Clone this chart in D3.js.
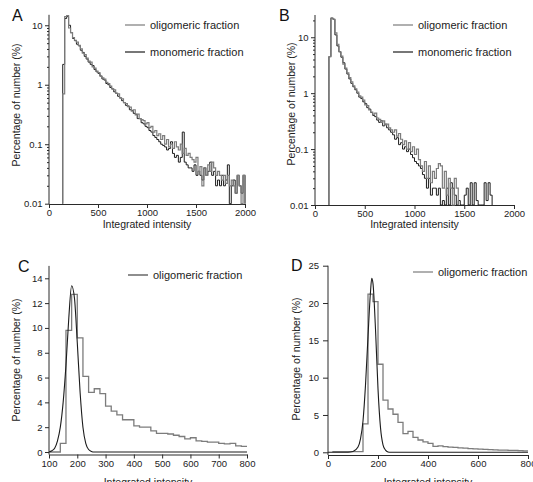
<!DOCTYPE html>
<html>
<head>
<meta charset="utf-8">
<script src="https://cdn.jsdelivr.net/npm/d3@7"></script>
<style>
  body { margin: 0; background: #fff; }
  text { font-family: "Liberation Sans", Arial, Helvetica, sans-serif; }
</style>
</head>
<body>
<div id="chart"></div>
<script>
// histogram bins are 20 intensity units wide
var binWidth = 20;

// panel A (log scale), bins start at 140
var startA = 140;
var oligoA = [0.7, 14, 14.5, 9, 7.5, 6.2, 5.6, 5.2, 4.6, 4.0,
  3.4, 3.2, 2.8, 2.5, 2.4, 2.0, 1.9, 1.7, 1.6, 1.4,
  1.3, 1.25, 1.1, 1.05, 0.95, 0.85, 0.82, 0.72, 0.7, 0.6,
  0.58, 0.5, 0.48, 0.43, 0.42, 0.36, 0.38, 0.31, 0.32, 0.27,
  0.26, 0.25, 0.22, 0.23, 0.19, 0.2, 0.16, 0.17, 0.14, 0.15,
  0.12, 0.14, 0.1, 0.12, 0.09, 0.1, 0.085, 0.11, 0.09, 0.08,
  0.1, 0.07, 0.085, 0.065, 0.07, 0.06, 0.055, 0.05, 0.06, 0.035,
  0.042, 0.02, 0.04, 0.03, 0.045, 0.035, 0.05, 0.04, 0.03, 0.035,
  0.03, 0.025, 0.03, 0.022, 0.03, 0.02, 0.025, 0.02, 0.015, 0.03,
  0.02, 0, 0.03];
var monoA = [2.2, 13, 14, 10, 7.5, 6.0, 5.5, 4.8, 4.5, 3.8,
  3.5, 3.0, 2.7, 2.4, 2.2, 2.1, 1.8, 1.65, 1.55, 1.4,
  1.25, 1.2, 1.05, 1.0, 0.9, 0.85, 0.76, 0.72, 0.64, 0.6,
  0.54, 0.5, 0.45, 0.44, 0.38, 0.37, 0.33, 0.32, 0.27, 0.27,
  0.23, 0.22, 0.2, 0.19, 0.17, 0.16, 0.14, 0.13, 0.12, 0.11,
  0.1, 0.095, 0.09, 0.08, 0.085, 0.11, 0.07, 0.06, 0.065, 0.05,
  0.06, 0.16, 0.05, 0.045, 0.04, 0.04, 0.035, 0.045, 0.03, 0.035,
  0.03, 0.025, 0.04, 0.03, 0.035, 0.05, 0.03, 0.035, 0.02, 0.025,
  0.02, 0.03, 0.02, 0.025, 0.045, 0, 0.02, 0.025, 0.015, 0.03,
  0.02, 0.015, 0.03];

// panel B (log scale), bins start at 140
var startB = 140;
var oligoB = [4.5, 22, 21, 12, 7.5, 5.5, 4.6, 3.3, 2.8, 2.3,
  1.9, 1.6, 1.35, 1.2, 1.05, 0.9, 0.85, 0.75, 0.62, 0.6,
  0.5, 0.46, 0.42, 0.44, 0.36, 0.34, 0.3, 0.32, 0.27, 0.28,
  0.24, 0.22, 0.2, 0.22, 0.17, 0.19, 0.15, 0.12, 0.14, 0.1,
  0.13, 0.09, 0.11, 0.08, 0.1, 0.065, 0.05, 0.04, 0.06, 0.03,
  0.05, 0.025, 0.04, 0.03, 0.045, 0.055, 0.05, 0.02, 0.04, 0.015,
  0.03, 0.02, 0.01, 0.03, 0.02];
var monoB = [4.5, 22, 21, 11, 7, 5.5, 4.4, 3.5, 2.7, 2.2,
  1.8, 1.5, 1.3, 1.15, 1.0, 0.85, 0.8, 0.7, 0.65, 0.55,
  0.52, 0.45, 0.4, 0.38, 0.33, 0.3, 0.32, 0.26, 0.28, 0.24,
  0.22, 0.2, 0.18, 0.15, 0.16, 0.12, 0.13, 0.1, 0.11, 0.09,
  0.1, 0.08, 0.07, 0.06, 0.055, 0.05, 0.045, 0.035, 0.03, 0.02,
  0.03, 0.015, 0.02, 0.02, 0.015, 0.02, 0.01, 0.012, 0, 0.02,
  0.01, 0.025, 0.02, 0.015, 0.01, 0.012, 0, 0, 0.015, 0.02,
  0, 0.025, 0, 0.025, 0.012, 0, 0, 0.01, 0.025, 0.012,
  0.025, 0.015];

// panel C (linear), bins start at 100
var startC = 100;
var histC = [0, 0, 0.7, 9.8, 12.7, 9.2, 6.1, 4.8, 5.1, 4.7,
  3.7, 3.3, 3.0, 2.6, 2.6, 2.1, 2.0, 2.0, 1.7, 1.5,
  1.5, 1.45, 1.35, 1.25, 1.05, 1.15, 0.9, 0.85, 0.8, 0.8,
  0.7, 0.65, 0.7, 0.5, 0.45];
var fitCx = [100, 110, 120, 130, 140, 150, 160, 170, 180, 190, 200, 210, 220, 230, 240, 250, 260, 800];
var fitCy = [0, 0.1, 0.3, 0.9, 2.0, 4.0, 7.0, 10.8, 13.4, 12.4, 8.8, 4.8, 2.0, 0.7, 0.2, 0.05, 0, 0];

// panel D (linear), bins start at 20
var startD = 20;
var histD = [0.1, 0.1, 0.1, 0.1, 0.1, 0.1, 3.8, 21.2, 20.2, 11.8,
  7.0, 5.8, 5.1, 4.0, 2.5, 2.8, 2.0, 1.65, 1.4, 1.2,
  0.8, 0.85, 0.75, 0.7, 0.65, 0.6, 0.55, 0.5, 0.45, 0.42,
  0.38, 0.35, 0.32, 0.3, 0.28, 0.26, 0.25, 0.22, 0.2];
var fitDx = [0, 80, 100, 120, 130, 140, 150, 160, 170, 175, 180, 190, 200, 210, 220, 230, 240, 250, 800];
var fitDy = [0, 0, 0.1, 0.7, 1.8, 4.2, 9, 15.5, 21.5, 23.3, 22.6, 16.5, 8.5, 3.3, 1.0, 0.3, 0.05, 0, 0];

// ticks and labels
var xTicksAB = [0, 500, 1000, 1500, 2000];
var yTicksLog = [0.01, 0.1, 1, 10];
var xTicksC = [100, 200, 300, 400, 500, 600, 700, 800];
var yTicksC = [0, 2, 4, 6, 8, 10, 12, 14];
var xTicksD = [0, 200, 400, 600, 800];
var yTicksD = [0, 5, 10, 15, 20, 25];
var legendAB = ["oligomeric fraction", "monomeric fraction"];
var legendCD = ["oligomeric fraction"];
var xTitle = "Integrated intensity";
var yTitle = "Percentage of number (%)";

var grey = "#7c7c7c", dark = "#1c1c1c", axisCol = "#2a2a2a";

var svg = d3.select("#chart").append("svg")
  .attr("width", 533).attr("height", 482);

// one panel: axes, labels, letter
function panel(p) {
  var g = svg.append("g");
  var x = d3.scaleLinear().domain(p.xDomain).range(p.xRange);
  var y = (p.log ? d3.scaleLog() : d3.scaleLinear()).domain(p.yDomain).range(p.yRange);

  // x axis
  var gx = g.append("g")
    .attr("transform", "translate(0," + p.axisY + ")")
    .attr("color", axisCol)
    .call(d3.axisBottom(x).tickValues(p.xTicks).tickSize(4).tickSizeOuter(0)
      .tickPadding(1.5).tickFormat(d3.format("d")));
  gx.selectAll("text").style("font-size", "9.5px").attr("fill", "#222");

  // y axis
  var gy = g.append("g")
    .attr("transform", "translate(" + p.xRange[0] + ",0)")
    .attr("color", axisCol)
    .call(d3.axisLeft(y).tickValues(p.yTicks).tickSize(p.tickY || 4).tickSizeOuter(0)
      .tickPadding(p.padY || 2.5).tickFormat(function(d) { return String(d); }));
  gy.select(".domain").remove();
  gy.selectAll("text").style("font-size", "9.5px").attr("fill", "#222");
  g.append("line")
    .attr("x1", p.xRange[0]).attr("x2", p.xRange[0])
    .attr("y1", p.yRange[1]).attr("y2", p.axisY)
    .attr("stroke", axisCol);

  if (p.log) {
    var minor = [];
    yTicksLog.forEach(function(dec) {
      for (var k = 2; k <= 9; k++) {
        if (dec * k <= p.yDomain[1]) minor.push(dec * k);
      }
    });
    var gm = g.append("g")
      .attr("transform", "translate(" + p.xRange[0] + ",0)")
      .attr("color", axisCol)
      .call(d3.axisLeft(y).tickValues(minor).tickSize(2).tickSizeOuter(0).tickFormat(""));
    gm.select(".domain").remove();
  }

  // titles
  g.append("text")
    .attr("x", (p.xRange[0] + p.xRange[1]) / 2)
    .attr("y", p.xTitleY)
    .attr("text-anchor", "middle")
    .style("font-size", "10.5px").attr("fill", "#222")
    .text(xTitle);
  g.append("text")
    .attr("transform", "translate(" + p.yTitleX + "," + p.yTitleMid + ") rotate(-90)")
    .attr("text-anchor", "middle")
    .style("font-size", "10.5px").attr("fill", "#222")
    .text(yTitle);

  // panel letter
  g.append("text")
    .attr("x", p.letterX).attr("y", p.letterY)
    .style("font-size", "16px").attr("fill", "#111")
    .text(p.letter);

  // legend
  p.legend.forEach(function(name, i) {
    var ly = p.legendY + i * 27;
    g.append("line")
      .attr("x1", p.legendX).attr("x2", p.legendX + 20)
      .attr("y1", ly).attr("y2", ly)
      .attr("stroke", p.legendColors[i]).attr("stroke-width", 1.2);
    g.append("text")
      .attr("x", p.legendX + 25).attr("y", ly + 4)
      .style("font-size", "11px").attr("fill", "#222")
      .text(name);
  });

  return { g: g, x: x, y: y, p: p };
}

// step outline of a histogram
function histLine(pan, start, values, color, width, dropEnd) {
  var y = pan.y, x = pan.x, p = pan.p;
  var floor = p.yDomain[0];
  var pts = [[start, floor]];
  values.forEach(function(v, i) {
    pts.push([start + i * binWidth, v]);
  });
  var end = start + values.length * binWidth;
  pts.push([end, dropEnd ? floor : values[values.length - 1]]);
  var line = d3.line()
    .curve(d3.curveStepAfter)
    .x(function(d) { return x(d[0]); })
    .y(function(d) { return d[1] > floor ? y(d[1]) : y(floor); });
  pan.g.append("path")
    .attr("d", line(pts))
    .attr("fill", "none")
    .attr("stroke", color)
    .attr("stroke-width", width);
}

function fitLine(pan, xs, ys) {
  var line = d3.line()
    .curve(d3.curveMonotoneX)
    .x(function(d) { return pan.x(d); })
    .y(function(d, i) { return pan.y(ys[i]); });
  pan.g.append("path")
    .attr("d", line(xs))
    .attr("fill", "none")
    .attr("stroke", dark)
    .attr("stroke-width", 1.1);
}

// A
var pA = panel({
  log: true, xDomain: [0, 2000], xRange: [49, 245], yDomain: [0.01, 15], yRange: [203.7, 14.8],
  axisY: 204, xTicks: xTicksAB, yTicks: yTicksLog, xTitleY: 227.5, yTitleX: 20, yTitleMid: 105,
  letter: "A", letterX: 12, letterY: 21, legend: legendAB, legendX: 125, legendY: 25,
  legendColors: [grey, dark]
});
histLine(pA, startA, monoA, dark, 1, true);
histLine(pA, startA, oligoA, grey, 1.2, true);

// B
var pB = panel({
  log: true, xDomain: [0, 2000], xRange: [315, 514], yDomain: [0.01, 25], yRange: [205, 15],
  axisY: 205, xTicks: xTicksAB, yTicks: yTicksLog, xTitleY: 228, yTitleX: 295, yTitleMid: 104,
  letter: "B", letterX: 279, letterY: 21, legend: legendAB, legendX: 393, legendY: 25,
  legendColors: [grey, dark]
});
histLine(pB, startB, monoB, dark, 1, true);
histLine(pB, startB, oligoB, grey, 1.2, true);

// C
var pC = panel({
  log: false, xDomain: [100, 800], xRange: [49, 247], yDomain: [0, 15], yRange: [452, 265.9],
  axisY: 454.5, xTicks: xTicksC, yTicks: yTicksC, xTitleY: 486, yTitleX: 20, yTitleMid: 360,
  letter: "C", letterX: 18, letterY: 272, legend: legendCD, legendX: 128, legendY: 275,
  legendColors: ["#444"]
});
histLine(pC, startC, histC, grey, 1.3, false);
fitLine(pC, fitCx, fitCy);

// D
var pD = panel({
  log: false, xDomain: [0, 800], xRange: [328, 528], yDomain: [0, 25], yRange: [452.3, 265.7],
  axisY: 455, xTicks: xTicksD, yTicks: yTicksD, xTitleY: 486, yTitleX: 300, yTitleMid: 359,
  letter: "D", letterX: 291, letterY: 271, legend: legendCD, legendX: 413, legendY: 272,
  legendColors: [grey], tickY: 5, padY: 4
});
histLine(pD, startD, histD, grey, 1.3, false);
fitLine(pD, fitDx, fitDy);
</script>
</body>
</html>
